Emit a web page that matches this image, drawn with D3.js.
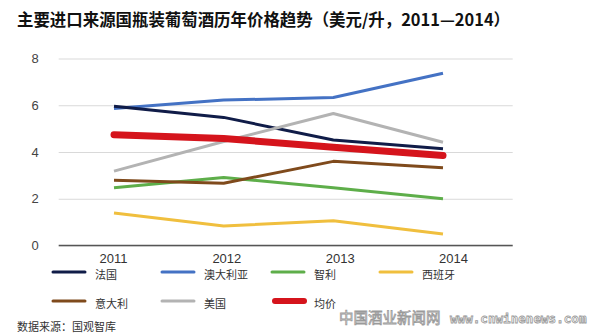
<!DOCTYPE html>
<html><head><meta charset="utf-8">
<script src="https://cdn.jsdelivr.net/npm/d3@7"></script>
<style>html,body{margin:0;padding:0;background:#fff;}svg{display:block;}</style>
</head><body>
<svg id="c" width="600" height="335"></svg>
<script>
const years = ["2011","2012","2013","2014"];
const yTicks = [0,2,4,6,8];
const seriesNames = ["法国","澳大利亚","智利","西班牙","意大利","美国","均价"];
const france    = [5.96,5.48,4.51,4.14];
const australia = [5.86,6.22,6.33,7.37];
const chile     = [2.47,2.91,2.47,2.00];
const spain     = [1.39,0.83,1.06,0.49];
const italy     = [2.79,2.66,3.60,3.33];
const usa       = [3.18,4.45,5.65,4.42];
const average   = [4.74,4.58,4.20,3.85];
const colors = ["#101c48","#4472c4","#5eae4a","#f0bf3e","#7f4a1c","#b3b3b3","#d5141c"];
const titleText = "主要进口来源国瓶装葡萄酒历年价格趋势（美元/升，2011—2014）";
const sourceText = "数据来源：国观智库";

const values = [france,australia,chile,spain,italy,usa,average];
const svg = d3.select("#c");
const FONT = "'Liberation Sans', Arial, 'Noto Sans CJK SC', sans-serif";
const CJK = "'Noto Sans CJK SC', sans-serif";

const y = d3.scaleLinear().domain([0,8]).range([245.5,58.5]);
const xLine = d3.scalePoint().domain(years).range([114,443]);
const xAxis = d3.scalePoint().domain(years).range([113,453]);
const plotL = 58.7, plotR = 512.7;

// title
svg.append("text").attr("x",17).attr("y",26)
  .attr("font-family",CJK).attr("font-weight","bold").attr("font-size",16.5)
  .attr("fill","#111").attr("textLength",493).attr("lengthAdjust","spacingAndGlyphs")
  .text(titleText);

// gridlines
const yAx = svg.append("g").attr("transform",`translate(${plotL},0)`)
  .call(d3.axisLeft(y).tickValues(yTicks).tickSize(-(plotR-plotL)).tickPadding(20).tickFormat(d3.format("d")));
yAx.select(".domain").remove();
yAx.selectAll(".tick line").attr("stroke","#d9d9d9").attr("stroke-width",1);
yAx.selectAll(".tick text").attr("font-family",FONT).attr("font-size",13).attr("fill","#444");

// x axis
const xAx = svg.append("g").attr("transform",`translate(0,${y(0)})`)
  .call(d3.axisBottom(xAxis).tickSize(0).tickPadding(8));
xAx.select(".domain").remove();
xAx.selectAll(".tick text").attr("font-family",FONT).attr("font-size",13).attr("fill","#333");
svg.append("line").attr("x1",plotL).attr("x2",plotR).attr("y1",y(0)).attr("y2",y(0))
  .attr("stroke","#555").attr("stroke-width",1.6);

// lines
const line = d3.line().x((d,i)=>xLine(years[i])).y(d=>y(d));
const order = [1,0,5,2,3,4,6];
order.forEach(k=>{
  const isAvg = k===6;
  svg.append("path").datum(values[k]).attr("d",line).attr("fill","none")
    .attr("stroke",colors[k]).attr("stroke-width",isAvg?7:3)
    .attr("stroke-linecap",isAvg?"round":"butt").attr("stroke-linejoin","round");
});

// legend
const legX = [53,162,272,380];
const legY = [272,301];
seriesNames.forEach((n,i)=>{
  const row = Math.floor(i/4), col = i%4;
  const x0 = legX[col], yy = legY[row];
  const isAvg = i===6;
  svg.append("line").attr("x1",x0+(isAvg?3:0)).attr("x2",x0+32-(isAvg?0:0)).attr("y1",yy).attr("y2",yy)
    .attr("stroke",colors[i]).attr("stroke-width",isAvg?6:3).attr("stroke-linecap",isAvg?"round":"round");
  svg.append("text").attr("x",x0+42).attr("y",yy+7).attr("font-family",CJK).attr("font-size",11)
    .attr("fill","#333").text(n);
});

// source
svg.append("text").attr("x",17).attr("y",331).attr("font-family",CJK).attr("font-size",11)
  .attr("fill","#333").text(sourceText);

// watermark
svg.append("text").attr("x",339).attr("y",323).attr("font-family",CJK).attr("font-size",14.5)
  .attr("fill","#fff").attr("stroke","#9a9a9a").attr("stroke-width",0.8).text("中国酒业新闻网");
svg.append("text").attr("x",450).attr("y",323).attr("font-family","'DejaVu Sans Mono', monospace").attr("font-size",12.6)
  .attr("font-weight","bold").attr("fill","#fff").attr("stroke","#9a9a9a").attr("stroke-width",0.8).text("www.cnwinenews.com");
</script>
</body></html>
